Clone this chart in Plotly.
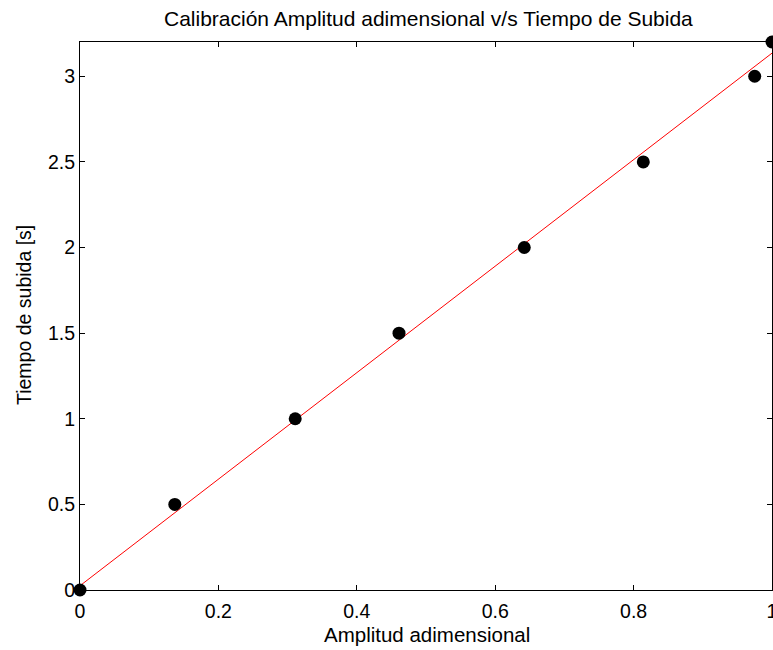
import plotly.graph_objects as go

amp = [0, 0.137, 0.311, 0.461, 0.642, 0.814, 0.975, 1.0]
tiempo = [0, 0.5, 1.0, 1.5, 2.0, 2.5, 3.0, 3.2]
fit_x = [0, 1.0]
fit_y = [0.025, 3.135]

xticks = [0, 0.2, 0.4, 0.6, 0.8, 1]
xlabels = ["0", "0.2", "0.4", "0.6", "0.8", "1"]
yticks = [0, 0.5, 1, 1.5, 2, 2.5, 3]
ylabels = ["0", "0.5", "1", "1.5", "2", "2.5", "3"]

W, H = 773, 650
font = "Liberation Sans, Arial, Helvetica, sans-serif"
FT = 19.5

fig = go.Figure()
fig.add_trace(go.Scatter(x=fit_x, y=fit_y, mode="lines",
                         line=dict(color="red", width=1), showlegend=False,
                         cliponaxis=True))
fig.add_trace(go.Scatter(x=amp, y=tiempo, mode="markers",
                         marker=dict(color="black", size=13), showlegend=False,
                         cliponaxis=False))

axis_common = dict(showgrid=False, zeroline=False, showline=True, linecolor="black",
                   linewidth=1, mirror="ticks", ticks="inside", ticklen=5,
                   tickcolor="black", automargin=False, ticklabeloverflow="allow",
                   tickfont=dict(family=font, size=FT, color="black"))

fig.update_layout(
    width=W, height=H,
    margin=dict(l=80, r=1, t=42, b=60),
    paper_bgcolor="white", plot_bgcolor="white",
    xaxis=dict(range=[0, 1], tickvals=xticks, ticktext=xlabels,
               ticklabelstandoff=4, **axis_common),
    yaxis=dict(range=[0, 3.2], tickvals=yticks, ticktext=ylabels, **axis_common),
    annotations=[
        dict(text="Calibración Amplitud adimensional v/s Tiempo de Subida",
             xref="paper", yref="paper", x=(428 - 80) / 692, y=(H - 19 - 60) / 548,
             xanchor="center", yanchor="middle", showarrow=False,
             font=dict(family=font, size=21, color="black")),
        dict(text="Amplitud adimensional",
             xref="paper", yref="paper", x=(427 - 80) / 692, y=(H - 634 - 60) / 548,
             xanchor="center", yanchor="middle", showarrow=False,
             font=dict(family=font, size=20.5, color="black")),
        dict(text="Tiempo de subida [s]", textangle=-90,
             xref="paper", yref="paper", x=(24 - 80) / 692, y=(H - 315 - 60) / 548,
             xanchor="center", yanchor="middle", showarrow=False,
             font=dict(family=font, size=19.5, color="black")),
    ],
)

fig.write_html("out.html")
